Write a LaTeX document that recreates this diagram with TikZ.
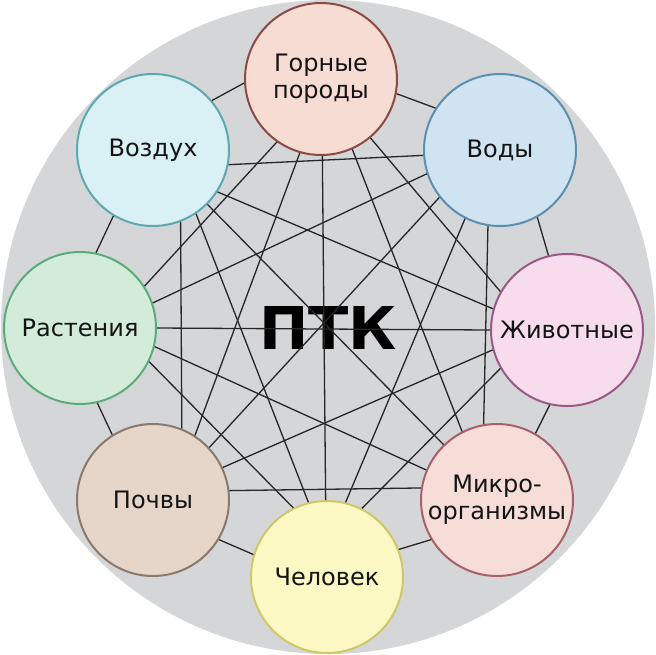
\documentclass[tikz,border=0pt]{standalone}
\usepackage{fontspec}
\setmainfont{DejaVu Sans}
\definecolor{bgdisc}{HTML}{D5D6D8}
\definecolor{gFill}{HTML}{F6DCD2}\definecolor{gLine}{HTML}{8B4A45}
\definecolor{vFill}{HTML}{D9F0F4}\definecolor{vLine}{HTML}{5FA8B0}
\definecolor{wFill}{HTML}{CFE4F0}\definecolor{wLine}{HTML}{5B8FB0}
\definecolor{rFill}{HTML}{D3ECD9}\definecolor{rLine}{HTML}{5CAB7A}
\definecolor{aFill}{HTML}{F7DCEE}\definecolor{aLine}{HTML}{9A5A85}
\definecolor{mFill}{HTML}{F6DDD8}\definecolor{mLine}{HTML}{A8606A}
\definecolor{hFill}{HTML}{FBF8C4}\definecolor{hLine}{HTML}{CFC76A}
\definecolor{pFill}{HTML}{E6D5C9}\definecolor{pLine}{HTML}{8A7A6E}
\begin{document}
\begin{tikzpicture}[x=1pt,y=-1pt,
  item/.style={circle, minimum size=152pt, inner sep=0pt, line width=2pt,
    font=\fontsize{24}{27}\selectfont, text=black!92, align=center},
  link/.style={line width=1.3pt, draw=black!85}]
\fill[white] (0,0) rectangle (656,654);
\useasboundingbox (0,0) rectangle (656,654);
\fill[bgdisc] (328,327) circle (327pt);
\node[item, fill=gFill, draw=gLine] (g) at (321,79) {Горные\\породы};
\node[item, fill=vFill, draw=vLine] (v) at (153,150) {Воздух};
\node[item, fill=wFill, draw=wLine] (w) at (500,150) {Воды};
\node[item, fill=rFill, draw=rLine] (r) at (80,328) {Растения};
\node[item, fill=aFill, draw=aLine] (a) at (567,330) {Животные};
\node[item, fill=pFill, draw=pLine] (p) at (153,500) {Почвы};
\node[item, fill=mFill, draw=mLine] (m) at (497,500) {Микро-\\организмы};
\node[item, fill=hFill, draw=hLine] (h) at (327,577) {Человек};
\node[font=\fontsize{59}{62}\selectfont\bfseries, text=black] (ptk) at (328,328) {ПТК};
% adjacent links
\draw[link] (g.183) -- (v.40);
\draw[link] (g.-11) -- (w.147);
\draw[link] (v.-121) -- (r.78);
\draw[link] (w.-61) -- (a.104);
\draw[link] (r.-77) -- (p.122);
\draw[link] (a.-103) -- (m.60);
\draw[link] (p.-31) -- (h.163);
\draw[link] (m.-149) -- (h.21);
% inner links
\draw[link] (g.-125) -- (r.33);
\draw[link] (g.-106) -- (p.57);
\draw[link] (g.-89) -- (h.91);
\draw[link] (g.-66) -- (m.117);
\draw[link] (g.-50) -- (a.150);
\draw[link] (v.-11) -- (w.184);
\draw[link] (v.-33) -- (a.164);
\draw[link] (v.-45) -- (m.134);
\draw[link] (v.-56) -- (h.104);
\draw[link] (v.-69) -- (p.68);
\draw[link] (w.-162) -- (r.19);
\draw[link] (w.-142) -- (p.43);
\draw[link] (w.-117) -- (h.76);
\draw[link] (w.-99) -- (m.100);
\draw[link] (r.0) -- (a.180);
\draw[link] (r.-14) -- (m.157);
\draw[link] (r.-26) -- (h.116);
\draw[link] (a.-165) -- (p.25);
\draw[link] (a.-150) -- (h.63);
\draw[link] (p.7) -- (m.171);
\end{tikzpicture}
\end{document}
